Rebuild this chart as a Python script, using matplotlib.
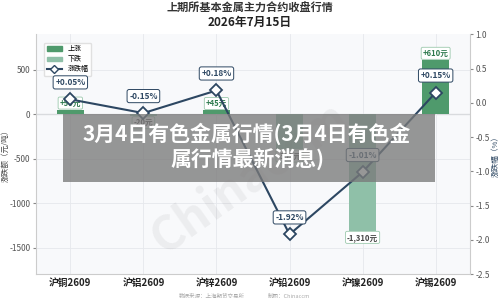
import matplotlib.pyplot as plt
import matplotlib.patches as mpatches
from matplotlib.lines import Line2D

plt.rcParams['font.family'] = ['Noto Sans CJK SC', 'DejaVu Sans']

categories = ['沪铜2609', '沪铝2609', '沪锌2609', '沪铅2609', '沪镍2609', '沪锡2609']
changes = [50, -20, 45, -395, -1310, 610]          # 涨跌额 (元/吨)
pct = [0.05, -0.15, 0.18, -1.92, -1.01, 0.15]       # 涨跌幅 (%)
left_ticks = [500, 0, -500, -1000, -1500]
right_ticks = [1.0, 0.5, 0.0, -0.5, -1.0, -1.5, -2.0, -2.5]

UP = '#4f9a6c'
DOWN = '#8fc0a8'
NAVY = '#2d4762'

fig = plt.figure(figsize=(5, 2.98), dpi=100)
fig.patch.set_facecolor('white')
ax = fig.add_axes([0.072, 0.08, 0.868, 0.805])
ax.set_facecolor('#f8f9fb')

x = list(range(len(categories)))
colors = [UP if v >= 0 else DOWN for v in changes]
ax.bar(x, changes, width=0.37, color=colors, zorder=2)
ax.axhline(0, color='#999999', lw=0.8, zorder=1)
ax.set_xlim(-0.47, 5.47)
ax.set_ylim(-1800, 900)
ax.set_yticks(left_ticks)
ax.set_yticklabels([str(t) for t in left_ticks], fontsize=6, color='#555555')
ax.set_xticks(x)
ax.set_xticklabels(categories, fontsize=7, fontweight='bold', color='#222222')
ax.tick_params(axis='x', length=0, pad=3)
ax.tick_params(axis='y', length=2, color='#888888', pad=2)
ax.grid(True, color='#e6e8ec', lw=0.6, zorder=0)
for s in ['top', 'right']:
    ax.spines[s].set_visible(False)
for s in ['left', 'bottom']:
    ax.spines[s].set_color('#cccccc')
ax.set_ylabel('涨跌额（元/吨）', fontsize=5.5, color='#444444', labelpad=0)

# bar value labels
for xi, v in zip(x, changes):
    txt = ('+' if v >= 0 else '') + f'{v:,}元'
    off = 25 if v >= 0 else -25
    ax.text(xi, v + off, txt, ha='center', va='bottom' if v >= 0 else 'top',
            fontsize=5.5, fontweight='bold', color='#2e7a4e' if v >= 0 else '#444444', zorder=4,
            bbox=dict(boxstyle='round,pad=0.2', fc='white', ec='#9cc9ad', lw=0.6))

ax2 = ax.twinx()
ax2.set_ylim(-2.5, 1.0)
ax2.set_yticks(right_ticks)
ax2.set_yticklabels([f'{t:.1f}' for t in right_ticks], fontsize=6, color='#555555')
ax2.tick_params(axis='y', length=2, color='#888888', pad=2)
for s in ['top', 'left', 'bottom']:
    ax2.spines[s].set_visible(False)
ax2.spines['right'].set_color('#cccccc')
ax2.set_ylabel('涨跌幅（%）', fontsize=5.5, color=NAVY, labelpad=1)
ax2.plot(x, pct, color=NAVY, lw=1.5, marker='D', ms=6, mfc='white', mec=NAVY, mew=1.3, zorder=5)
for xi, p in zip(x, pct):
    ax2.annotate(f'{p:+.2f}%', (xi, p), xytext=(0, 9), textcoords='offset points',
                 ha='center', va='bottom', fontsize=6, fontweight='bold', color=NAVY,
                 bbox=dict(boxstyle='round,pad=0.25', fc='white', ec=NAVY, lw=0.7), zorder=6)

handles = [mpatches.Patch(color=UP, label='上涨'),
           mpatches.Patch(color=DOWN, label='下跌'),
           Line2D([0], [0], color=NAVY, lw=1.5, marker='D', ms=4, mfc='white', mec=NAVY, label='涨跌幅')]
ax.legend(handles=handles, loc='upper left', fontsize=5, frameon=True, framealpha=0.9,
          edgecolor='#dddddd', handlelength=2.2, borderpad=0.4, labelspacing=0.3,
          bbox_to_anchor=(0.01, 0.98))

fig.text(0.5, 0.995, '上期所基本金属主力合约收盘行情', ha='center', va='top',
         fontsize=8, fontweight='bold', color='#333333')
fig.text(0.5, 0.945, '2026年7月15日', ha='center', va='top',
         fontsize=8.5, fontweight='bold', color='#222222')

# watermark
fig.text(0.5, 0.4, 'Chinaccm', ha='center', va='center', fontsize=34, fontweight='bold',
         color='#000000', alpha=0.05, rotation=35)

fig.text(0.49, 0.0, '数据来源：上海期货交易所', ha='right', va='bottom', fontsize=4, color='#aaaaaa')
fig.text(0.535, 0.0, '制图：Chinaccm', ha='left', va='bottom', fontsize=4, color='#aaaaaa')

# grey headline banner
fig.patches.append(mpatches.Rectangle((0.126, 0.39), 0.744, 0.228, transform=fig.transFigure,
                                      facecolor='#7a7a7a', alpha=0.78, zorder=10))
fig.text(0.494, 0.51, '3月4日有色金属行情(3月4日有色金\n属行情最新消息)', ha='center', va='center',
         fontsize=15, fontweight='bold', color='white', linespacing=1.15, zorder=11)

fig.savefig('out.png', dpi=100)
